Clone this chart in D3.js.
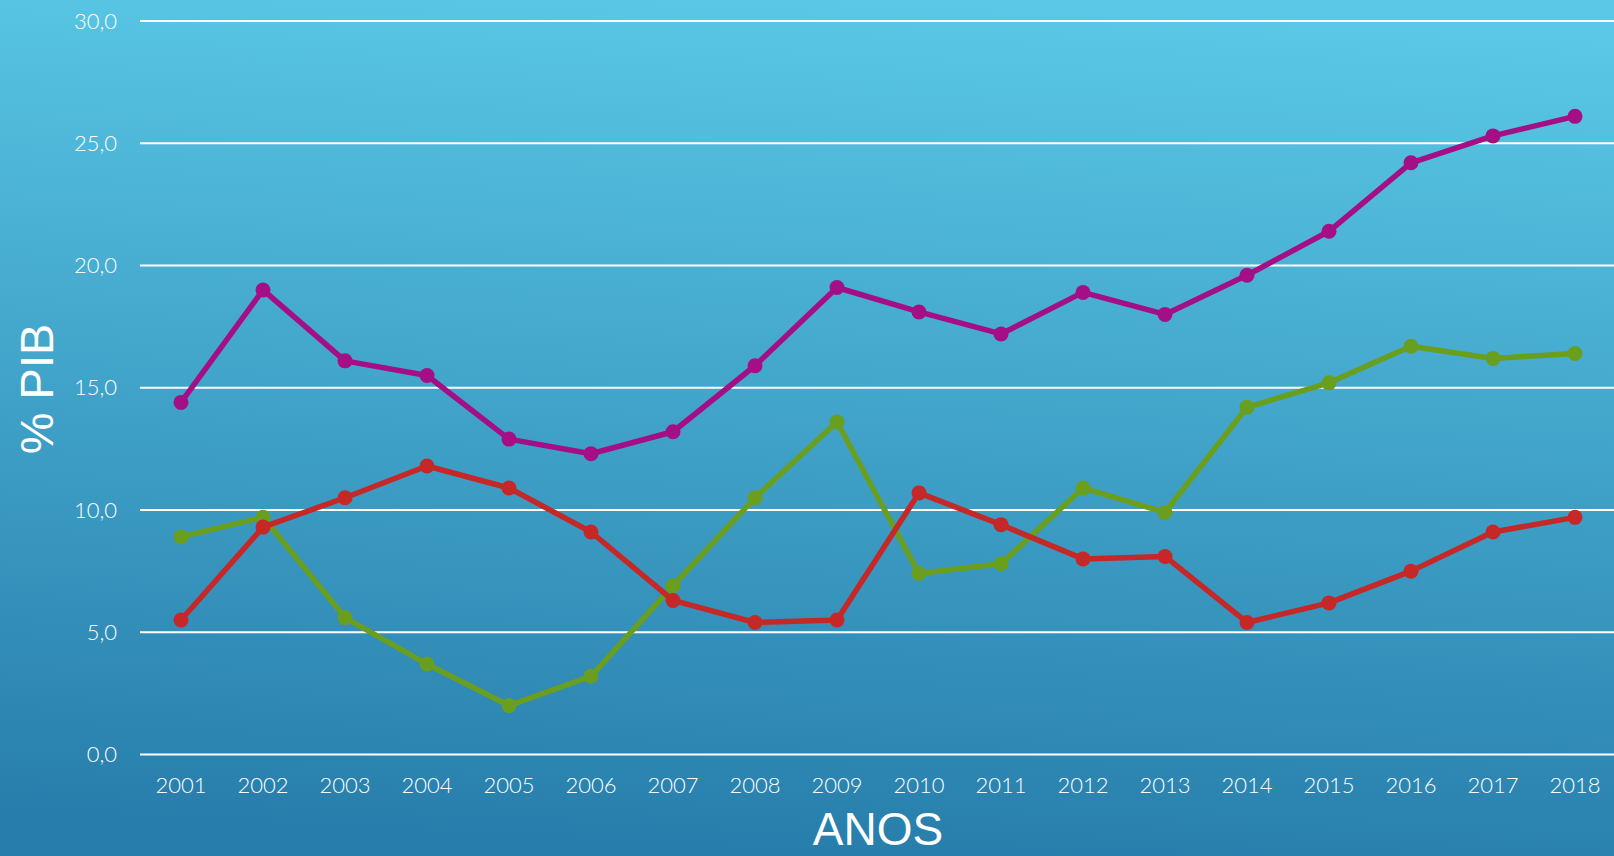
<!DOCTYPE html>
<html>
<head>
<meta charset="utf-8">
<script src="https://cdn.jsdelivr.net/npm/d3@7"></script>
<style>
  html, body { margin: 0; padding: 0; overflow: hidden; }
  .tick-label { font-family: "Lato", "DejaVu Sans", sans-serif; font-weight: 300; fill: #fff; }
  .axis-title { font-family: "Liberation Sans", Arial, sans-serif; fill: #fff; }
</style>
</head>
<body>
<div id="chart"></div>
<script>
const years = ["2001","2002","2003","2004","2005","2006","2007","2008","2009","2010","2011","2012","2013","2014","2015","2016","2017","2018"];
const yTicks = [0, 5, 10, 15, 20, 25, 30];

const purpleValues = [14.4, 19.0, 16.1, 15.5, 12.9, 12.3, 13.2, 15.9, 19.1, 18.1, 17.2, 18.9, 18.0, 19.6, 21.4, 24.2, 25.3, 26.1];
const greenValues  = [8.9, 9.7, 5.6, 3.7, 2.0, 3.2, 6.9, 10.5, 13.6, 7.4, 7.8, 10.9, 9.9, 14.2, 15.2, 16.7, 16.2, 16.4];
const redValues    = [5.5, 9.3, 10.5, 11.8, 10.9, 9.1, 6.3, 5.4, 5.5, 10.7, 9.4, 8.0, 8.1, 5.4, 6.2, 7.5, 9.1, 9.7];

const series = [
  { name: "verde", values: greenValues, color: "#6a9e1f" },
  { name: "vermelho", values: redValues, color: "#c62828" },
  { name: "roxo", values: purpleValues, color: "#a50f85" }
];

const width = 1614, height = 856;
const plotLeft = 140, plotRight = 1616, plotTop = 21, plotBottom = 754.5;

const svg = d3.select("#chart")
  .append("svg")
  .attr("width", width)
  .attr("height", height);

// background gradient
const grad = svg.append("defs")
  .append("linearGradient")
  .attr("id", "bg")
  .attr("x1", "0.55").attr("y1", "0")
  .attr("x2", "0.45").attr("y2", "1");
grad.append("stop").attr("offset", "0%").attr("stop-color", "#5ac8e6");
grad.append("stop").attr("offset", "100%").attr("stop-color", "#277dab");

svg.append("rect")
  .attr("width", width)
  .attr("height", height)
  .attr("fill", "url(#bg)");

const x = d3.scalePoint()
  .domain(years)
  .range([plotLeft, plotRight])
  .padding(0.5);

const y = d3.scaleLinear()
  .domain([0, 30])
  .range([plotBottom, plotTop]);

const fmt = (v) => d3.format(".1f")(v).replace(".", ",");

// gridlines
svg.append("g")
  .selectAll("line")
  .data(yTicks)
  .enter()
  .append("line")
  .attr("x1", plotLeft)
  .attr("x2", width)
  .attr("y1", (d) => y(d))
  .attr("y2", (d) => y(d))
  .style("stroke", "#fff")
  .style("stroke-width", 2);

// y tick labels
svg.append("g")
  .selectAll("text")
  .data(yTicks)
  .enter()
  .append("text")
  .attr("class", "tick-label")
  .attr("x", 117)
  .attr("y", (d) => y(d))
  .attr("dy", "0.35em")
  .attr("text-anchor", "end")
  .style("font-size", "22px")
  .text((d) => fmt(d));

// x tick labels
svg.append("g")
  .selectAll("text")
  .data(years)
  .enter()
  .append("text")
  .attr("class", "tick-label")
  .attr("x", (d) => x(d))
  .attr("y", 793)
  .attr("text-anchor", "middle")
  .style("font-size", "22px")
  .text((d) => d);

// axis titles
svg.append("text")
  .attr("class", "axis-title")
  .attr("x", (plotLeft + plotRight) / 2)
  .attr("y", 845)
  .attr("text-anchor", "middle")
  .style("font-size", "46px")
  .text("ANOS");

svg.append("text")
  .attr("class", "axis-title")
  .attr("transform", "translate(53,389) rotate(-90)")
  .attr("text-anchor", "middle")
  .style("font-size", "47px")
  .text("% PIB");

const line = d3.line()
  .x((d, i) => x(years[i]))
  .y((d) => y(d));

series.forEach((s) => {
  const g = svg.append("g");
  g.append("path")
    .attr("d", line(s.values))
    .style("fill", "none")
    .style("stroke", s.color)
    .style("stroke-width", 5.5)
    .style("stroke-linejoin", "round");

  g.selectAll("circle")
    .data(s.values)
    .enter()
    .append("circle")
    .attr("cx", (d, i) => x(years[i]))
    .attr("cy", (d) => y(d))
    .attr("r", 7.5)
    .style("fill", s.color);
});
</script>
</body>
</html>
